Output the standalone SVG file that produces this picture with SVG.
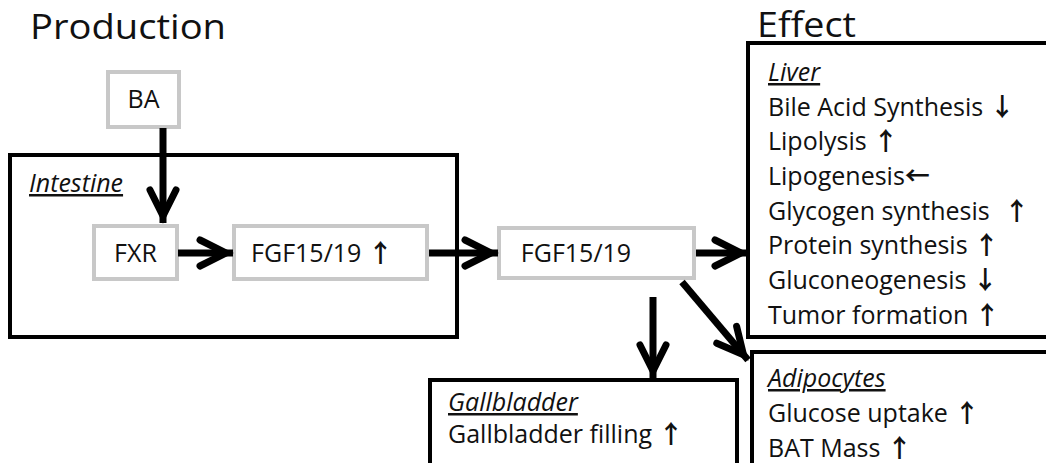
<svg xmlns="http://www.w3.org/2000/svg" width="1046" height="463" viewBox="0 0 1046 463">
<style>
text{font-family:"Open Sans","DejaVu Sans",sans-serif;fill:#111;}
.t{font-size:25px;}
.h{font-size:34px;}
.lbl{font-size:25px;font-style:italic;text-decoration:underline;}
.ar{font-family:"Noto Sans CJK SC","DejaVu Sans",sans-serif;font-weight:bold;font-size:25px;}
.node{fill:#fff;stroke:#c8c8c8;stroke-width:4;}
.grp{fill:#fff;stroke:#000;stroke-width:4;}
.c{stroke:#000;stroke-width:7;fill:none;marker-end:url(#ah);}
</style>
<defs>
<marker id="ah" markerUnits="userSpaceOnUse" viewBox="-45 -25 55 50" markerWidth="55" markerHeight="50" refX="0" refY="0" orient="auto">
<path d="M-33,-13 L-7,0 L-33,13" fill="none" stroke="#000" stroke-width="7" stroke-linecap="round" stroke-linejoin="miter"/>
</marker>
</defs>
<rect width="1046" height="463" fill="#fff"/>
<text class="h" x="30" y="39" textLength="196" lengthAdjust="spacingAndGlyphs">Production</text>
<text class="h" x="757" y="37" textLength="99" lengthAdjust="spacingAndGlyphs">Effect</text>

<g id="intestine">
<rect class="grp" x="10" y="155" width="447" height="182"/>
<text class="lbl" x="29" y="192">Intestine</text>
</g>
<g id="liver">
<rect class="grp" x="748" y="43" width="310" height="294"/>
<text class="lbl" x="768" y="81">Liver</text>
<text class="t" x="768" y="116">Bile Acid Synthesis <tspan class="ar">↓</tspan></text>
<text class="t" x="768" y="150">Lipolysis <tspan class="ar">↑</tspan></text>
<text class="t" x="768" y="185">Lipogenesis<tspan class="ar" font-weight="normal">←</tspan></text>
<text class="t" x="768" y="220">Glycogen synthesis <tspan class="ar" dx="8">↑</tspan></text>
<text class="t" x="768" y="254">Protein synthesis <tspan class="ar">↑</tspan></text>
<text class="t" x="768" y="289">Gluconeogenesis <tspan class="ar">↓</tspan></text>
<text class="t" x="768" y="324">Tumor formation <tspan class="ar">↑</tspan></text>
</g>
<g id="adipocytes">
<rect class="grp" x="752" y="352" width="310" height="130"/>
<text class="lbl" x="768" y="387">Adipocytes</text>
<text class="t" x="768" y="422">Glucose uptake <tspan class="ar">↑</tspan></text>
<text class="t" x="768" y="457">BAT Mass <tspan class="ar">↑</tspan></text>
</g>
<g id="gallbladder">
<rect class="grp" x="430" y="380" width="307" height="100"/>
<text class="lbl" x="448" y="411">Gallbladder</text>
<text class="t" x="448" y="443">Gallbladder filling <tspan class="ar">↑</tspan></text>
</g>

<g id="ba">
<rect class="node" x="108" y="72" width="71" height="55"/>
<text class="t" x="143.5" y="108" text-anchor="middle">BA</text>
</g>
<g id="fxr">
<rect class="node" x="94" y="226" width="83" height="53"/>
<text class="t" x="135.5" y="262" text-anchor="middle">FXR</text>
</g>
<g id="fgf-int">
<rect class="node" x="234" y="226" width="193" height="53"/>
<text class="t" x="322" y="262" text-anchor="middle">FGF15/19 <tspan class="ar">↑</tspan></text>
</g>
<g id="fgf">
<rect class="node" x="499" y="228" width="195" height="50"/>
<text class="t" x="576" y="262" text-anchor="middle">FGF15/19</text>
</g>

<g id="connectors">
<line class="c" x1="163" y1="128" x2="163" y2="223"/>
<line class="c" x1="178" y1="253" x2="233" y2="253"/>
<line class="c" x1="429" y1="253" x2="498" y2="253"/>
<line class="c" x1="696" y1="253" x2="748" y2="253"/>
<line class="c" x1="653" y1="297" x2="653" y2="378"/>
<line class="c" x1="682" y1="282" x2="748" y2="360"/>
</g>
</svg>
